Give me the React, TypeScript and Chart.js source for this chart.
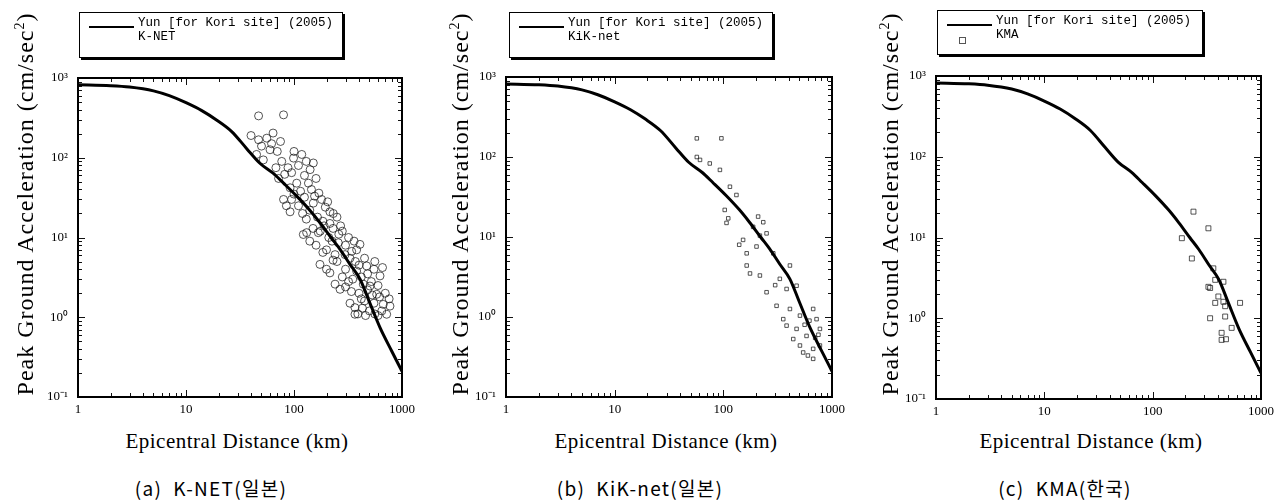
import React, { useEffect, useRef } from 'react';
import { Chart, registerables } from 'chart.js';

Chart.register(...registerables);

// ---------------- DATA ----------------
const curveLabel = 'Yun [for Kori site] (2005)';
const curveDistance = [1, 2, 3, 5, 7, 10, 14, 19, 26.5, 36.5, 48, 64, 80, 106, 140, 174, 220, 267, 330, 409, 500, 626, 800, 1000];
const curvePGA = [820, 800, 770, 690, 600, 490, 390, 300, 213, 130, 86, 64, 48, 33, 22, 15.3, 10, 7.1, 4.6, 3.0, 1.55, 0.74, 0.38, 0.21];

const kNetPoints: [number, number][] = [
  [47, 335], [80, 345], [47, 168], [56, 176], [64, 204], [52, 94], [60, 126], [62, 150], [50, 140], [70, 120], [45, 110], [40, 190], [75, 160],
  [77, 90], [99, 99], [118, 110], [82, 62], [106, 48], [136, 48], [141, 71], [151, 86], [88, 75], [95, 65], [110, 80], [125, 60], [130, 90], [72, 55], [92, 42], [115, 38], [160, 55], [145, 40], [68, 75], [100, 120],
  [80, 30], [95, 30], [151, 27], [180, 30], [215, 21], [92, 21], [231, 20], [110, 25], [125, 32], [140, 22], [165, 18], [195, 24], [250, 18], [100, 35], [130, 17], [170, 36], [205, 28], [120, 20], [85, 25], [155, 33], [185, 16],
  [168, 11.5], [257, 8.6], [297, 6.1], [342, 6.7], [131, 11.5], [240, 6.1], [122, 10.9], [408, 8.2], [150, 13], [190, 14], [210, 10], [225, 9], [280, 12], [320, 10], [160, 8], [200, 7], [260, 11], [300, 8], [360, 9], [140, 9], [175, 12], [230, 13], [185, 6.5], [270, 14], [380, 7], [215, 15],
  [174, 4.6], [380, 3.8], [438, 2.6], [215, 3.6], [471, 4.4], [626, 3.3], [267, 2.24], [505, 2.46], [250, 5], [300, 4], [330, 5.5], [350, 3], [400, 4.5], [420, 3.2], [280, 3.2], [230, 5.2], [320, 2.8], [480, 3.5], [550, 4], [200, 4], [370, 5], [450, 5.5], [520, 2.8], [600, 2.5], [560, 5], [660, 4.2], [240, 2.6], [300, 2.4],
  [583, 1.94], [367, 1.32], [367, 1.09], [671, 1.45], [721, 1.09], [774, 1.38], [400, 2], [450, 1.6], [500, 1.2], [550, 1.5], [620, 1.8], [480, 2.2], [430, 1.3], [530, 1.9], [700, 2], [650, 1.2], [330, 1.5], [390, 1.1], [600, 1.05], [460, 1.05], [760, 1.7], [340, 2.1], [420, 1.7], [560, 1.1],
];

const kikNetPoints: [number, number][] = [
  [57, 171], [96, 171], [61, 92], [75, 83], [93, 69], [115, 42.5], [132, 33.5], [103, 21.8], [111, 17.1], [209, 18], [188, 13.4], [250, 11.1], [152, 9.2], [164, 6.25], [202, 7.6], [288, 6.25],
  [176, 3.5], [217, 3.3], [331, 3.0], [250, 2.04], [382, 2.24], [472, 2.46], [309, 1.38], [410, 1.26], [507, 1.04], [356, 0.94], [671, 1.26], [721, 0.94], [774, 0.71], [472, 0.71], [583, 0.58],
  [507, 0.44], [671, 0.4], [671, 0.3], [543, 0.36], [774, 0.44], [440, 0.53], [382, 0.78], [233, 15.3], [410, 4.4], [107, 15], [164, 4.4], [57, 100], [217, 10.4], [620, 0.9], [700, 0.55], [750, 0.6], [600, 0.33], [560, 0.8], [300, 2.5], [140, 8],
];

const kmaPoints: [number, number][] = [
  [238, 20.9], [327, 13], [186, 9.8], [230, 5.5], [363, 4.15], [327, 2.45], [450, 2.83], [378, 2.99], [339, 2.37], [378, 1.55], [467, 1.41], [641, 1.55], [339, 1.0], [467, 1.05], [536, 0.76], [433, 0.66], [433, 0.54], [404, 1.86], [475, 0.55], [450, 1.6],
];

const xTickValues = [1, 10, 100, 1000];
const xTickLabels = ['1', '10', '100', '1000'];
const yTickValues = [0.1, 1, 10, 100, 1000];
const yTickLabels = ['10\u207B\u00B9', '10\u2070', '10\u00B9', '10\u00B2', '10\u00B3'];

const xTitle = 'Epicentral Distance (km)';
const yTitleMain = 'Peak Ground Acceleration (cm/sec';

const panelSeries = [
  { dataLabel: 'K-NET', caption: '(a)\u00A0\u00A0K-NET(일본)', points: kNetPoints, marker: 'circle', legendMarker: false },
  { dataLabel: 'KiK-net', caption: '(b)\u00A0\u00A0KiK-net(일본)', points: kikNetPoints, marker: 'rect', legendMarker: false },
  { dataLabel: 'KMA', caption: '(c)\u00A0\u00A0KMA(한국)', points: kmaPoints, marker: 'rect', legendMarker: true },
];

// ---------------- LAYOUT ----------------
const CW = 430;
const CH = 420;
const layouts = [
  { left: 0, plotLeft: 78, plotRight: 402, plotTop: 78, plotBottom: 397, legendLeft: 79, legendTop: 12, legendW: 264, legendH: 46, yTitleX: 20, xTitleCx: 237, captionCx: 211, radius: 4 },
  { left: 430, plotLeft: 76, plotRight: 402, plotTop: 77, plotBottom: 397, legendLeft: 79, legendTop: 12, legendW: 264, legendH: 46, yTitleX: 25, xTitleCx: 236, captionCx: 210, radius: 2.5 },
  { left: 860, plotLeft: 76, plotRight: 401, plotTop: 76, plotBottom: 399, legendLeft: 77, legendTop: 10, legendW: 266, legendH: 45, yTitleX: 25, xTitleCx: 231, captionCx: 205, radius: 3.5 },
];

const SERIF = '"Liberation Serif", "Times New Roman", serif';

const framePlugin = {
  id: 'frameTicks',
  afterDraw(chart: any) {
    const { ctx, chartArea, scales } = chart;
    const { left, right, top, bottom } = chartArea;
    const xs = scales.x;
    const ys = scales.y;
    ctx.save();
    ctx.strokeStyle = '#111';
    ctx.lineWidth = 1;
    ctx.beginPath();
    for (let n = 0; n <= 2; n++) {
      for (let k = 1; k <= 9; k++) {
        const v = k * Math.pow(10, n);
        const px = Math.round(xs.getPixelForValue(v)) + 0.5;
        const len = k === 1 ? 7 : 4;
        ctx.moveTo(px, bottom);
        ctx.lineTo(px, bottom - len);
        ctx.moveTo(px, top);
        ctx.lineTo(px, top + len);
      }
    }
    for (let n = -1; n <= 2; n++) {
      for (let k = 1; k <= 9; k++) {
        const v = k * Math.pow(10, n);
        const py = Math.round(ys.getPixelForValue(v)) + 0.5;
        const len = k === 1 ? 7 : 4;
        ctx.moveTo(left, py);
        ctx.lineTo(left + len, py);
        ctx.moveTo(right, py);
        ctx.lineTo(right - len, py);
      }
    }
    ctx.stroke();
    ctx.strokeStyle = '#000';
    ctx.lineWidth = 2;
    ctx.strokeRect(left, top, right - left, bottom - top);
    ctx.restore();
  },
};

function Panel({ index }: { index: number }) {
  const ref = useRef<HTMLCanvasElement>(null);
  const lay = layouts[index];
  const ser = panelSeries[index];

  useEffect(() => {
    if (!ref.current) return;
    const chart = new Chart(ref.current, {
      type: 'scatter',
      data: {
        datasets: [
          {
            type: 'line',
            label: curveLabel,
            data: curveDistance.map((d, i) => ({ x: d, y: curvePGA[i] })),
            borderColor: '#000',
            borderWidth: 3,
            pointRadius: 0,
            showLine: true,
            fill: false,
            cubicInterpolationMode: 'monotone',
            order: 0,
          } as any,
          {
            label: ser.dataLabel,
            data: ser.points.map(([x, y]) => ({ x, y })),
            pointStyle: ser.marker as any,
            pointRadius: lay.radius,
            borderColor: 'rgba(20,20,20,0.72)',
            backgroundColor: 'rgba(0,0,0,0)',
            borderWidth: 1,
            showLine: false,
            order: 1,
          },
        ],
      },
      options: {
        responsive: false,
        animation: false,
        layout: { padding: { left: 0, top: lay.plotTop, right: CW - lay.plotRight, bottom: 0 } },
        plugins: { legend: { display: false }, tooltip: { enabled: false } },
        scales: {
          x: {
            type: 'logarithmic',
            min: 1,
            max: 1000,
            grid: { display: false, drawTicks: false },
            border: { display: false },
            afterBuildTicks: (s: any) => {
              s.ticks = xTickValues.map((v) => ({ value: v }));
            },
            afterFit: (s: any) => {
              s.height = CH - lay.plotBottom;
            },
            ticks: {
              autoSkip: false,
              maxRotation: 0,
              padding: 5,
              color: '#000',
              font: { family: SERIF, size: 13 },
              callback: (_v: any, i: number) => xTickLabels[i],
            },
          },
          y: {
            type: 'logarithmic',
            min: 0.1,
            max: 1000,
            grid: { display: false, drawTicks: false },
            border: { display: false },
            afterBuildTicks: (s: any) => {
              s.ticks = yTickValues.map((v) => ({ value: v }));
            },
            afterFit: (s: any) => {
              s.width = lay.plotLeft;
            },
            ticks: {
              autoSkip: false,
              padding: 10,
              color: '#000',
              font: { family: SERIF, size: 13 },
              callback: (_v: any, i: number) => yTickLabels[i],
            },
          },
        },
      } as any,
      plugins: [framePlugin],
    });
    return () => chart.destroy();
  }, []);

  return (
    <div style={{ position: 'absolute', left: lay.left, top: 0, width: CW, height: 501 }}>
      <canvas ref={ref} width={CW} height={CH} style={{ position: 'absolute', left: 0, top: 0, width: CW, height: CH }} />
      {/* legend */}
      <div
        style={{
          position: 'absolute',
          left: lay.legendLeft,
          top: lay.legendTop,
          width: lay.legendW,
          height: lay.legendH,
          border: '1px solid #000',
          boxShadow: '2px 2px 0 #000',
          background: '#fff',
          boxSizing: 'border-box',
          fontFamily: '"Liberation Mono", "DejaVu Sans Mono", monospace',
          fontSize: 12.5,
          color: '#000',
        }}
      >
        <div style={{ position: 'absolute', left: 9, top: 13, width: 45, height: 2, background: '#000' }} />
        <div style={{ position: 'absolute', left: 58, top: 4, lineHeight: '13px', whiteSpace: 'nowrap' }}>{curveLabel}</div>
        {ser.legendMarker && (
          <div style={{ position: 'absolute', left: 21, top: 26, width: 5, height: 5, border: '1px solid rgba(20,20,20,0.72)' }} />
        )}
        <div style={{ position: 'absolute', left: 58, top: 18, lineHeight: '13px', whiteSpace: 'nowrap' }}>{ser.dataLabel}</div>
      </div>
      {/* y title */}
      <div
        style={{
          position: 'absolute',
          left: lay.yTitleX - 220,
          top: 204 - 13,
          width: 440,
          height: 26,
          lineHeight: '26px',
          textAlign: 'center',
          transform: 'rotate(-90deg)',
          transformOrigin: '50% 50%',
          fontFamily: SERIF,
          fontSize: 24,
          letterSpacing: 1,
          color: '#000',
          whiteSpace: 'nowrap',
        }}
      >
        {yTitleMain}
        <sup style={{ fontSize: 14 }}>2</sup>)
      </div>
      {/* x title */}
      <div
        style={{
          position: 'absolute',
          left: lay.xTitleCx - 150,
          top: 430,
          width: 300,
          lineHeight: '22px',
          textAlign: 'center',
          fontFamily: SERIF,
          fontSize: 21,
          letterSpacing: 0.5,
          color: '#000',
          whiteSpace: 'nowrap',
        }}
      >
        {xTitle}
      </div>
      {/* caption */}
      <div
        style={{
          position: 'absolute',
          left: lay.captionCx - 150,
          top: 477,
          width: 300,
          lineHeight: '22px',
          textAlign: 'center',
          fontFamily: '"Noto Sans CJK KR", "Noto Sans", sans-serif',
          fontSize: 19,
          letterSpacing: 1.3,
          color: '#000',
          whiteSpace: 'nowrap',
        }}
      >
        {ser.caption}
      </div>
    </div>
  );
}

export default function App() {
  return (
    <div style={{ position: 'fixed', left: 0, top: 0, width: 1288, height: 501, background: '#fff', overflow: 'hidden' }}>
      <Panel index={0} />
      <Panel index={1} />
      <Panel index={2} />
    </div>
  );
}
